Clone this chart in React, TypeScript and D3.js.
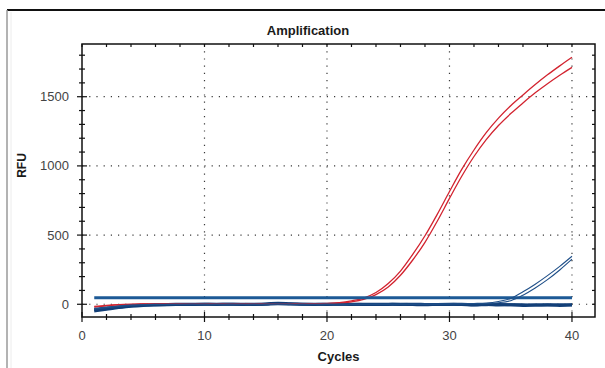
import * as d3 from "d3";

const cycles = [
  1, 2, 3, 4, 5, 6, 7, 8, 9, 10, 11, 12, 13, 14, 15, 16, 17, 18, 19, 20,
  21, 22, 23, 24, 25, 26, 27, 28, 29, 30, 31, 32, 33, 34, 35, 36, 37, 38, 39, 40,
];

// positive samples (red)
const redA = [
  -15, -8, -3, 0, 2, 1, 3, 2, 1, 2, 3, 2, 1, 3, 2, 4, 3, 5, 4, 6,
  12, 25, 45, 85, 150, 240, 360, 495, 650, 815, 975, 1115, 1240, 1345, 1435, 1513, 1588, 1658, 1723, 1785,
];
const redB = [
  -20, -12, -5, -2, 1, 0, 2, 1, 0, 1, 2, 1, 0, 2, 1, 3, 2, 4, 3, 5,
  9, 18, 35, 70, 125, 210, 320, 448, 600, 765, 925, 1068, 1190, 1292, 1378, 1455, 1528, 1594, 1655, 1712,
];

// late risers (blue)
const blueA = [
  -35, -24, -15, -8, -4, -2, -1, 0, 0, 1, 0, 1, 0, 0, 1, 2, 1, 0, 0, 1,
  0, 1, 0, 0, 1, 0, 1, 2, 2, 3, 4, 6, 9, 20, 42, 90, 145, 207, 274, 347,
];
const blueB = [
  -30, -20, -12, -6, -3, -1, 0, 0, 1, 0, 1, 0, 0, 1, 0, 1, 0, 1, 0, 0,
  1, 0, 0, 1, 0, 1, 0, 1, 1, 2, 3, 4, 5, 11, 26, 66, 118, 178, 248, 326,
];

// negatives (navy baseline)
const navyA = [
  -48, -36, -24, -14, -8, -5, -3, -2, -1, 0, 1, 0, -1, 0, 2, 8, 4, 0, -1, 0,
  1, 0, -1, -2, -1, 0, -2, -4, -1, 0, -2, -6, -3, -1, -4, -8, -5, -6, -4, -5,
];
const navyB = [
  -40, -30, -20, -11, -6, -3, -1, 0, 1, 0, -1, 1, 0, -1, 0, 3, 2, 1, 0, -1,
  0, -1, 0, 1, 0, -1, 0, -1, -2, -1, 0, -3, -2, -5, -3, -4, -6, -3, -8, -4,
];

const threshold = 48;

const xTicks = [0, 10, 20, 30, 40];
const yTicks = [0, 500, 1000, 1500];

const W = 605;
const H = 368;
const L = 82;
const R = 595;
const T = 44;
const B = 317;

const x = d3.scaleLinear().domain([0, 41.88]).range([L, R]);
const y = d3.scaleLinear().domain([-92, 1881]).range([B, T]);

const xMinor = d3.range(0, 42, 2);
const yMinor = d3.range(0, 1900, 100);

const font = "'Liberation Sans', Arial, sans-serif";

function path(vals: number[]) {
  const line = d3
    .line<number>()
    .x((_, i) => x(cycles[i]))
    .y((d) => y(d))
    .curve(d3.curveMonotoneX);
  return line(vals) || "";
}

export default function App() {
  const gridColor = "#3a3a3a";
  return (
    <svg
      width={W}
      height={H}
      style={{ position: "absolute", left: 0, top: 0, background: "#fff" }}
    >
      <defs>
        <clipPath id="plot">
          <rect x={L} y={T} width={R - L} height={B - T} />
        </clipPath>
      </defs>
      {/* outer frame */}
      <line x1={7} x2={W} y1={10} y2={10} stroke="#111" strokeWidth={2} />
      <line x1={7} x2={7} y1={10} y2={H} stroke="#9a9a9a" strokeWidth={1.5} />
      <line x1={11} x2={11} y1={12} y2={H} stroke="#ececec" strokeWidth={1} />

      <text
        x={308}
        y={35}
        textAnchor="middle"
        fontFamily={font}
        fontWeight="bold"
        fontSize={13}
        fill="#1a1a1a"
      >
        Amplification
      </text>

      {/* grid */}
      {xTicks.slice(1).map((t) => (
        <line
          key={"gx" + t}
          x1={x(t)}
          x2={x(t)}
          y1={T}
          y2={B}
          stroke={gridColor}
          strokeWidth={1.2}
          strokeDasharray="1.2,6"
        />
      ))}
      {yTicks.map((t) => (
        <line
          key={"gy" + t}
          x1={L}
          x2={R}
          y1={y(t)}
          y2={y(t)}
          stroke={gridColor}
          strokeWidth={1.2}
          strokeDasharray="1.2,6"
        />
      ))}

      <g clipPath="url(#plot)" fill="none">
        {[navyA, navyB].map((s, i) => (
          <path key={"n" + i} d={path(s)} stroke="#123f78" strokeWidth={3} />
        ))}
        {[redA, redB].map((s, i) => (
          <path key={"r" + i} d={path(s)} stroke="#d2232f" strokeWidth={1.3} />
        ))}
        <line
          x1={x(1)}
          x2={x(40)}
          y1={y(threshold)}
          y2={y(threshold)}
          stroke="#1d5a96"
          strokeWidth={3}
        />
        {[blueA, blueB].map((s, i) => (
          <path key={"b" + i} d={path(s)} stroke="#1f4f88" strokeWidth={1.1} />
        ))}
      </g>

      {/* frame and ticks */}
      <rect x={L} y={T} width={R - L} height={B - T} fill="none" stroke="#111" strokeWidth={1.5} />
      {xMinor.map((t) => {
        const major = t % 10 === 0;
        const len = major ? 5 : 3;
        return (
          <g key={"xt" + t} stroke="#111" strokeWidth={1.2}>
            <line x1={x(t)} x2={x(t)} y1={B - len} y2={B + len} />
            <line x1={x(t)} x2={x(t)} y1={T} y2={T + 3} />
          </g>
        );
      })}
      {yMinor.map((t) => {
        const major = t % 500 === 0;
        const len = major ? 5 : 3;
        return (
          <g key={"yt" + t} stroke="#111" strokeWidth={1.2}>
            <line x1={L - len} x2={L + len} y1={y(t)} y2={y(t)} />
            <line x1={R - 3} x2={R} y1={y(t)} y2={y(t)} />
          </g>
        );
      })}

      {xTicks.map((t) => (
        <text
          key={"xl" + t}
          x={x(t)}
          y={340}
          textAnchor="middle"
          fontFamily={font}
          fontSize={13}
          fill="#444"
        >
          {t}
        </text>
      ))}
      {yTicks.map((t) => (
        <text
          key={"yl" + t}
          x={69}
          y={y(t) + 4.5}
          textAnchor="end"
          fontFamily={font}
          fontSize={13}
          fill="#444"
        >
          {t}
        </text>
      ))}

      <text
        x={(L + R) / 2}
        y={361}
        textAnchor="middle"
        fontFamily={font}
        fontWeight="bold"
        fontSize={13}
        fill="#1a1a1a"
      >
        Cycles
      </text>
      <text
        transform={`translate(26,${(T + B) / 2 - 15}) rotate(-90)`}
        textAnchor="middle"
        fontFamily={font}
        fontWeight="bold"
        fontSize={12}
        fill="#1a1a1a"
      >
        RFU
      </text>
    </svg>
  );
}
